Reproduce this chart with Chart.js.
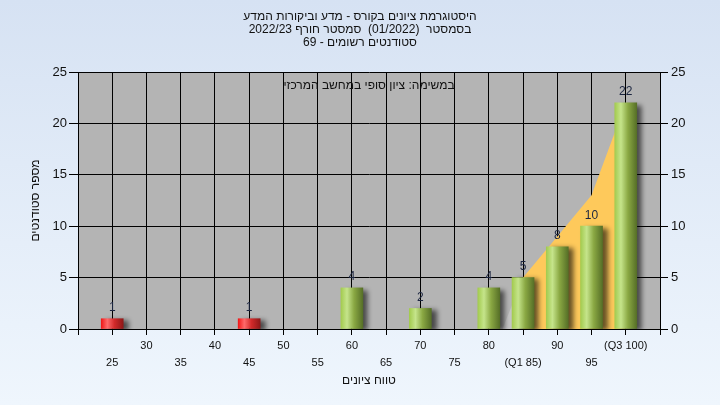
<!DOCTYPE html>
<html>
<head>
<meta charset="utf-8">
<script src="https://cdn.jsdelivr.net/npm/chart.js@4.4.1/dist/chart.umd.min.js"></script>
<style>
  html, body { margin: 0; padding: 0; }
  #wrap { width: 720px; height: 405px; }
</style>
</head>
<body>
<div id="wrap"><canvas id="histogram" width="720" height="405"></canvas></div>
<script>
// grade buckets and number of students in each
const scores = [25, 30, 35, 40, 45, 50, 55, 60, 65, 70, 75, 80, 85, 90, 95, 100];
const counts = [1, 0, 0, 0, 1, 0, 0, 4, 0, 2, 0, 4, 5, 8, 10, 22];
const passMark = 55;

// quartile band behind the bars
const bandScores = [85, 90, 95, 100];
const bandValues = [5, 9, 13, 22];
const leadScores = [82, 85];
const leadValues = [0, 5];

const tickNames = { 85: '(Q1 85)', 100: '(Q3 100)' };
const yTicks = [0, 5, 10, 15, 20, 25];

const titleLines = [
  'היסטוגרמת ציונים בקורס - מדע וביקורות המדע',
  'בסמסטר  (01/2022)  סמסטר חורף 2022/23',
  'סטודנטים רשומים - 69'
];
const taskTitle = 'במשימה: ציון סופי במחשב המרכזי';
const xTitle = 'טווח ציונים';
const yTitle = 'מספר סטודנטים';

const FONT = "'Liberation Sans', Arial, sans-serif";

// empty buckets get no bar at all
const bars = scores.map((s, i) => ({ x: s, y: counts[i] })).filter(p => p.y > 0);

function barFill(c) {
  const chart = c.chart;
  const score = c.raw ? c.raw.x : 100;
  const pass = score > passMark;
  if (!chart.chartArea || !chart.scales.x) return pass ? '#8fb347' : '#e02020';
  const cx = chart.scales.x.getPixelForValue(score);
  const g = chart.ctx.createLinearGradient(cx - 11, 0, cx + 11, 0);
  if (pass) {
    g.addColorStop(0, '#a3cb4f');
    g.addColorStop(0.28, '#c5e48b');
    g.addColorStop(0.6, '#8aa843');
    g.addColorStop(1, '#566f27');
  } else {
    g.addColorStop(0, '#f01818');
    g.addColorStop(0.28, '#ff6a6a');
    g.addColorStop(0.6, '#d22a2a');
    g.addColorStop(1, '#8e1818');
  }
  return g;
}

const backdrop = {
  id: 'backdrop',
  beforeDraw(chart) {
    const { ctx, width, height, chartArea: a } = chart;
    ctx.save();
    const g = ctx.createLinearGradient(0, 0, 0, height);
    g.addColorStop(0, '#d6e2f3');
    g.addColorStop(1, '#eff6fd');
    ctx.fillStyle = g;
    ctx.fillRect(0, 0, width, height);
    ctx.fillStyle = '#b4b4b4';
    ctx.fillRect(a.left, a.top, a.right - a.left, a.bottom - a.top);
    ctx.restore();
  },
  afterDraw(chart) {
    const { ctx, width, chartArea: a } = chart;
    ctx.save();
    ctx.direction = 'rtl';
    ctx.textAlign = 'center';
    ctx.textBaseline = 'middle';
    ctx.fillStyle = '#111';
    ctx.font = '12px ' + FONT;
    titleLines.forEach((t, i) => ctx.fillText(t, width / 2, 17 + i * 13));
    ctx.fillText(taskTitle, (a.left + a.right) / 2, a.top + 14);
    ctx.restore();
  }
};

// drop shadow behind the bars
const barShadow = {
  id: 'barShadow',
  beforeDatasetDraw(chart, args) {
    if (args.index !== 0) return;
    const ctx = chart.ctx;
    ctx.save();
    ctx.shadowColor = 'rgba(0,0,0,0.6)';
    ctx.shadowOffsetX = 5;
    ctx.shadowOffsetY = 2;
    ctx.shadowBlur = 5;
  },
  afterDatasetDraw(chart, args) {
    if (args.index !== 0) return;
    chart.ctx.restore();
  }
};

const valueLabels = {
  id: 'valueLabels',
  afterDatasetsDraw(chart) {
    const ctx = chart.ctx;
    const meta = chart.getDatasetMeta(0);
    ctx.save();
    ctx.font = '12px ' + FONT;
    ctx.fillStyle = '#1b2540';
    ctx.textAlign = 'center';
    ctx.textBaseline = 'middle';
    meta.data.forEach((bar, i) => {
      ctx.fillText(String(bars[i].y), bar.x, bar.y - 11);
    });
    ctx.restore();
  }
};

new Chart(document.getElementById('histogram'), {
  type: 'bar',
  data: {
    datasets: [
      {
        type: 'bar',
        data: bars,
        backgroundColor: barFill,
        borderWidth: 0,
        barThickness: 22,
        order: 0
      },
      {
        type: 'line',
        data: bandScores.map((s, i) => ({ x: s, y: bandValues[i] })),
        fill: 'origin',
        backgroundColor: '#fec95b',
        borderWidth: 0,
        pointRadius: 0,
        tension: 0,
        order: 1
      },
      {
        type: 'line',
        data: leadScores.map((s, i) => ({ x: s, y: leadValues[i] })),
        fill: 'origin',
        backgroundColor: '#c4c4c4',
        borderWidth: 0,
        pointRadius: 0,
        tension: 0,
        order: 2
      }
    ]
  },
  options: {
    responsive: false,
    animation: false,
    devicePixelRatio: 1,
    layout: { padding: { top: 72, left: 0, right: 0, bottom: 0 } },
    plugins: { legend: { display: false }, tooltip: { enabled: false }, title: { display: false } },
    scales: {
      x: {
        type: 'linear',
        min: 20,
        max: 105,
        offset: false,
        afterFit(s) { s.height = 76; },
        grid: { color: '#000', lineWidth: 1, tickLength: 6, offset: false, tickColor: '#000' },
        border: { color: '#000' },
        ticks: {
          stepSize: 5,
          autoSkip: false,
          maxRotation: 0,
          padding: 2,
          color: '#111',
          font: { family: FONT, size: 11, lineHeight: 1.55 },
          callback(v) {
            if (v < 25 || v > 100) return '';
            const name = tickNames[v] || String(v);
            return v % 10 === 0 ? [name, ''] : ['', name];
          }
        },
        title: { display: true, text: xTitle, color: '#111', font: { family: FONT, size: 12 }, padding: { top: 0, bottom: 17 } }
      },
      y: {
        position: 'left',
        min: 0,
        max: 25,
        afterFit(s) { s.width = 78; },
        afterBuildTicks(s) { s.ticks = yTicks.map(v => ({ value: v })); },
        grid: { color: '#000', lineWidth: 1, tickLength: 9, tickColor: '#000' },
        border: { color: '#000' },
        ticks: { padding: 2, color: '#111', font: { family: FONT, size: 13 } },
        title: { display: true, text: yTitle, color: '#111', font: { family: FONT, size: 12 }, padding: { top: 28, bottom: 0 } }
      },
      y2: {
        position: 'right',
        min: 0,
        max: 25,
        afterFit(s) { s.width = 60; },
        afterBuildTicks(s) { s.ticks = yTicks.map(v => ({ value: v })); },
        grid: { drawOnChartArea: false, tickLength: 8, tickColor: '#000' },
        border: { color: '#000' },
        ticks: { padding: 3, color: '#111', font: { family: FONT, size: 13 } }
      }
    }
  },
  plugins: [backdrop, barShadow, valueLabels]
});
</script>
</body>
</html>
